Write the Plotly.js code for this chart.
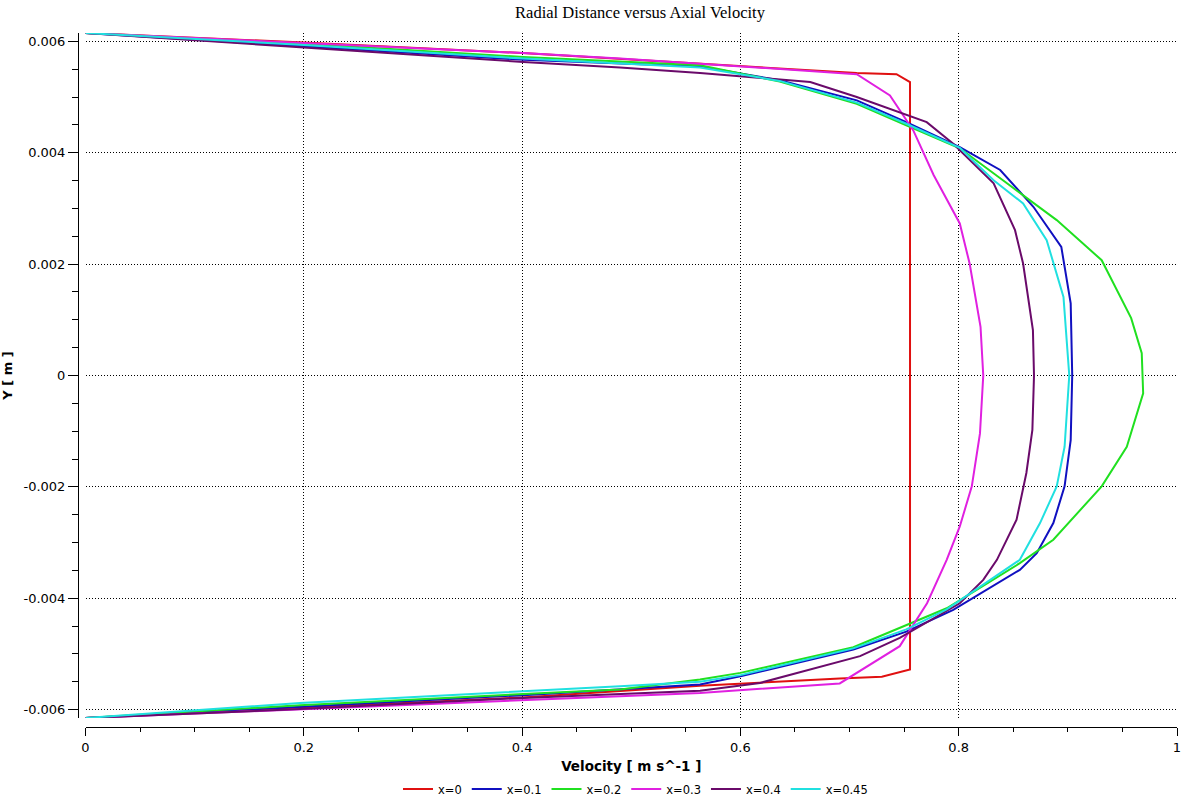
<!DOCTYPE html>
<html>
<head>
<meta charset="utf-8">
<script src="https://cdn.plot.ly/plotly-3.0.1.min.js"></script>
<style>html,body{margin:0;padding:0;background:#fff;}#chart{width:1200px;height:800px;}</style>
</head>
<body>
<div id="chart"></div>
<script>
// Series names
const seriesNames = ["x=0", "x=0.1", "x=0.2", "x=0.3", "x=0.4", "x=0.45"];

// x=0
const velX0 = [0, 0.2, 0.4, 0.563, 0.7066, 0.743, 0.7554, 0.7554, 0.7296, 0.691, 0.563, 0.4, 0.2, 0];
const yX0 = [0.00615, 0.00598, 0.00579, 0.0056, 0.00543, 0.00541, 0.00527, -0.00528, -0.00541, -0.00544, -0.00557, -0.00578, -0.00596, -0.00615];

// x=0.1
const velX01 = [0, 0.1965, 0.401, 0.563, 0.636, 0.7066, 0.752, 0.801, 0.838, 0.8684, 0.894, 0.9026, 0.904, 0.9026, 0.897, 0.8867, 0.8715, 0.856, 0.795, 0.752, 0.7035, 0.6, 0.563, 0.401, 0.1965, 0];
const yX01 = [0.00615, 0.00592, 0.00567, 0.00555, 0.0053, 0.00494, 0.00455, 0.0041, 0.00369, 0.00303, 0.00231, 0.001295, 0, -0.00116, -0.00199, -0.00265, -0.00319, -0.00349, -0.00421, -0.0046, -0.00492, -0.0054, -0.00555, -0.00574, -0.00595, -0.00615];

// x=0.2
const velX02 = [0, 0.1965, 0.401, 0.4897, 0.563, 0.636, 0.7066, 0.752, 0.801, 0.843, 0.8898, 0.931, 0.958, 0.9677, 0.969, 0.954, 0.931, 0.8867, 0.856, 0.789, 0.752, 0.7035, 0.6, 0.563, 0.4897, 0.401, 0.1965, 0];
const yX02 = [0.00615, 0.00596, 0.00572, 0.00564, 0.00557, 0.00528, 0.00488, 0.00449, 0.00408, 0.00347, 0.00279, 0.00207, 0.00103, 0.0004, -0.00032, -0.00128, -0.00199, -0.00295, -0.00337, -0.00418, -0.00448, -0.00488, -0.00534, -0.00546, -0.00564, -0.00572, -0.00592, -0.00615];

// x=0.3
const velX03 = [0, 0.1965, 0.401, 0.4897, 0.563, 0.7066, 0.737, 0.7584, 0.777, 0.801, 0.81, 0.82, 0.8225, 0.8195, 0.812, 0.801, 0.789, 0.771, 0.746, 0.691, 0.563, 0.4897, 0.401, 0.1965, 0];
const yX03 = [0.00615, 0.00598, 0.00579, 0.00569, 0.0056, 0.00541, 0.00503, 0.0044, 0.0036, 0.00273, 0.00201, 0.000875, 0, -0.00104, -0.00199, -0.00271, -0.00331, -0.00409, -0.00486, -0.00553, -0.0057, -0.00576, -0.00583, -0.00599, -0.00615];

// x=0.4
const velX04 = [0, 0.1965, 0.401, 0.4897, 0.563, 0.664, 0.7066, 0.7707, 0.795, 0.832, 0.8516, 0.859, 0.868, 0.869, 0.8675, 0.862, 0.853, 0.835, 0.8225, 0.801, 0.746, 0.7096, 0.618, 0.563, 0.4897, 0.401, 0.1965, 0];
const yX04 = [0.00615, 0.00589, 0.00563, 0.00553, 0.00543, 0.00527, 0.005, 0.00455, 0.00416, 0.00345, 0.00261, 0.00201, 0.000816, 0, -0.000978, -0.00175, -0.00259, -0.00331, -0.00367, -0.00409, -0.00471, -0.00504, -0.00552, -0.00566, -0.00572, -0.00579, -0.00599, -0.00615];

// x=0.45
const velX045 = [0, 0.1965, 0.401, 0.4897, 0.563, 0.636, 0.7066, 0.752, 0.801, 0.8317, 0.859, 0.8806, 0.896, 0.9013, 0.897, 0.8898, 0.8745, 0.856, 0.789, 0.752, 0.7035, 0.6, 0.563, 0.4897, 0.401, 0.1965, 0];
const yX045 = [0.00615, 0.00594, 0.00569, 0.0056, 0.00553, 0.00529, 0.0049, 0.00452, 0.00409, 0.00351, 0.00309, 0.00243, 0.00141, 0, -0.00128, -0.00199, -0.00265, -0.00331, -0.0042, -0.00456, -0.0049, -0.00538, -0.0055, -0.00558, -0.00567, -0.00588, -0.00615];

// Tick labels
const xTickVals = [0, 0.2, 0.4, 0.6, 0.8, 1];
const xTickText = ["0", "0.2", "0.4", "0.6", "0.8", "1"];
const yTickVals = [-0.006, -0.004, -0.002, 0, 0.002, 0.004, 0.006];
const yTickText = ["-0.006", "-0.004", "-0.002", "0", "0.002", "0.004", "0.006"];

const colors = ["#e01010", "#1010c0", "#20e020", "#e020e0", "#6a0a6a", "#20e0e0"];
const xs = [velX0, velX01, velX02, velX03, velX04, velX045];
const ys = [yX0, yX01, yX02, yX03, yX04, yX045];

const traces = seriesNames.map((n, i) => ({
  type: "scatter", mode: "lines", name: n,
  x: xs[i], y: ys[i],
  line: {color: colors[i], width: 2}
}));
// empty helper trace so the minor-tick overlay axes exist
traces.push({type: "scatter", mode: "lines", x: [], y: [], xaxis: "x2", yaxis: "y2", showlegend: false, hoverinfo: "skip"});

const W = 1200, H = 800;
const L = 78, R = 1177, T = 33, B = 727;
const xDom = [(85.5 - L) / (R - L), 1];
const yDom = [(B - 718) / (B - T), 1];
const xRange = [0, 1];
const yRange = [-0.00615, 0.00615];

const layout = {
  width: W, height: H,
  paper_bgcolor: "#fff", plot_bgcolor: "#fff",
  margin: {l: L, r: W - R, t: T, b: H - B, pad: 0, autoexpand: false},
  font: {family: "DejaVu Sans, sans-serif", size: 13, color: "#000"},
  title: {
    text: "Radial Distance versus Axial Velocity",
    font: {family: "Liberation Serif, Times New Roman, serif", size: 16.5, color: "#000"},
    xref: "container", x: 640 / W, xanchor: "center",
    yref: "container", y: 1 - 12 / H, yanchor: "middle"
  },
  xaxis: {
    domain: xDom, anchor: "free", position: 0, automargin: false,
    range: xRange,
    tickmode: "array", tickvals: xTickVals, ticktext: xTickText,
    ticks: "outside", ticklen: 8, tickwidth: 1, tickcolor: "#000",
    showline: true, linecolor: "#000", linewidth: 1,
    showgrid: true, gridcolor: "#000", gridwidth: 1, griddash: "1px,2px",
    zeroline: false,
    title: {text: "Velocity [ m s^-1 ]", font: {family: "DejaVu Sans, sans-serif", size: 13.5, color: "#000", weight: "bold"}, standoff: 10}
  },
  yaxis: {
    domain: yDom, anchor: "free", position: 0, automargin: false,
    range: yRange,
    tickmode: "array", tickvals: yTickVals, ticktext: yTickText,
    ticks: "outside", ticklen: 10, tickwidth: 1, tickcolor: "#000",
    showline: true, linecolor: "#000", linewidth: 1,
    showgrid: true, gridcolor: "#000", gridwidth: 1, griddash: "1px,2px",
    zeroline: false,
    title: {text: "Y [ m ]", font: {family: "DejaVu Sans, sans-serif", size: 13, color: "#000", weight: "bold"}, standoff: 37}
  },
  xaxis2: {
    domain: xDom, anchor: "free", position: 0, overlaying: "x", automargin: false,
    range: xRange, tickmode: "linear", tick0: 0, dtick: 0.05,
    ticks: "outside", ticklen: 4, tickwidth: 1, tickcolor: "#000",
    showticklabels: false, showgrid: false, showline: false, zeroline: false
  },
  yaxis2: {
    domain: yDom, anchor: "free", position: 0, overlaying: "y", automargin: false,
    range: yRange, tickmode: "linear", tick0: 0, dtick: 0.0005,
    ticks: "outside", ticklen: 6, tickwidth: 1, tickcolor: "#000",
    showticklabels: false, showgrid: false, showline: false, zeroline: false
  },
  showlegend: true,
  legend: {
    orientation: "h",
    xref: "container", x: 635.5 / W, xanchor: "center",
    yref: "container", y: 1 - 789 / H, yanchor: "middle",
    font: {family: "DejaVu Sans, sans-serif", size: 11.5, color: "#000"},
    bgcolor: "rgba(0,0,0,0)", itemwidth: 30, tracegroupgap: 0
  }
};

Plotly.newPlot("chart", traces, layout, {displayModeBar: false, staticPlot: true});
</script>
</body>
</html>
